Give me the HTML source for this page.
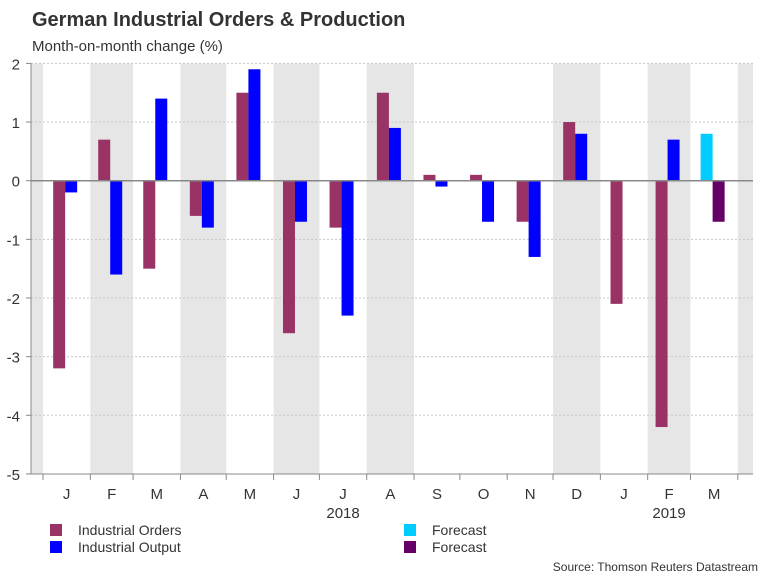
<!DOCTYPE html>
<html><head><meta charset="utf-8"><style>
body{margin:0;background:#fff;font-family:"Liberation Sans",sans-serif;}
</style></head><body>
<svg id="c" width="768" height="576" xmlns="http://www.w3.org/2000/svg" font-family="Liberation Sans, sans-serif">
<text x="32" y="26" font-size="20" font-weight="bold" fill="#333">German Industrial Orders &amp; Production</text>
<text x="32" y="51" font-size="15" fill="#333">Month-on-month change (%)</text>
<g id="plot"></g>
<g>
<rect x="50" y="524" width="12" height="12" fill="#993366"/>
<text x="78" y="535" font-size="14" fill="#333">Industrial Orders</text>
<rect x="50" y="541" width="12" height="12" fill="#0000ff"/>
<text x="78" y="552" font-size="14" fill="#333">Industrial Output</text>
<rect x="404" y="524" width="12" height="12" fill="#00ccff"/>
<text x="432" y="535" font-size="14" fill="#333">Forecast</text>
<rect x="404" y="541" width="12" height="12" fill="#660066"/>
<text x="432" y="552" font-size="14" fill="#333">Forecast</text>
</g>
<text x="758" y="571" font-size="12" fill="#333" text-anchor="end">Source: Thomson Reuters Datastream</text>
</svg>
<script>
const months=["J","F","M","A","M","J","J","A","S","O","N","D","J","F","M"];
const monthDays=[31,28,31,30,31,30,31,31,30,31,30,31,31,28,31];
const shaded=[false,true,false,true,false,true,false,true,false,false,false,true,false,true,false];
const orders=[-3.2,0.7,-1.5,-0.6,1.5,-2.6,-0.8,1.5,0.1,0.1,-0.7,1.0,-2.1,-4.2,null];
const output=[-0.2,-1.6,1.4,-0.8,1.9,-0.7,-2.3,0.9,-0.1,-0.7,-1.3,0.8,0.0,0.7,null];
const forecastLeft=[null,null,null,null,null,null,null,null,null,null,null,null,null,null,0.8];
const forecastRight=[null,null,null,null,null,null,null,null,null,null,null,null,null,null,-0.7];
const yTicks=[2,1,0,-1,-2,-3,-4,-5];
const NS="http://www.w3.org/2000/svg";
const g=document.getElementById('plot');
const L=31,R=753,X0=43,PPD=1.527;
const y=v=>180.7-v*58.65;
function mk(t,a){const e=document.createElementNS(NS,t);for(const k in a)e.setAttribute(k,a[k]);g.appendChild(e);return e;}
const edges=[X0];monthDays.forEach(d=>edges.push(edges[edges.length-1]+d*PPD));
let r=mk('rect',{x:L,y:y(2),width:X0-L,height:y(-5)-y(2),fill:'#e6e6e6'});


r=mk('rect',{x:edges[15],y:y(2),width:R-edges[15],height:y(-5)-y(2),fill:'#e6e6e6'});


months.forEach((m,i)=>{if(shaded[i]){const b=mk('rect',{x:edges[i],y:y(2),width:edges[i+1]-edges[i],height:y(-5)-y(2),fill:'#e6e6e6'});

}});
yTicks.forEach(v=>{
 if(v!==0&&v!==-5){const l=mk('line',{x1:L,x2:R,y1:y(v),y2:y(v),stroke:'#c8c8c8','stroke-dasharray':'2,2','stroke-width':1});
 
 }
 const tk=mk('line',{x1:L-5,x2:L,y1:y(v),y2:y(v),stroke:'#888'});
 
 
 const t=mk('text',{x:20,y:y(v)+6,'font-size':15,fill:'#333','text-anchor':'end'});t.textContent=v;
 
 
});
function bar(v,x,c,n){if(v===null)return;const b=mk('rect',{x:x,y:Math.min(y(v),y(0)),width:12,height:Math.max(Math.abs(y(v)-y(0)),0.8),fill:c});

}
months.forEach((m,i)=>{
 const c=(edges[i]+edges[i+1])/2-1.5;
 bar(orders[i],c-12,'#993366','bar-orders-'+i);
 bar(output[i],c,'#0000ff','bar-output-'+i);
 bar(forecastLeft[i],c-12,'#00ccff','bar-forecast-output-'+i);
 bar(forecastRight[i],c,'#660066','bar-forecast-orders-'+i);
 const t=mk('text',{x:c+1.5,y:499,'font-size':15,fill:'#333','text-anchor':'middle'});t.textContent=m;
 
 
});
edges.forEach(e=>{const tk=mk('line',{x1:e,x2:e,y1:y(-5),y2:y(-5)+6,stroke:'#888'});

});
let a=mk('line',{x1:L,x2:R,y1:y(0),y2:y(0),stroke:'#888','stroke-width':1.5});


a=mk('line',{x1:L,x2:L,y1:y(2),y2:y(-5),stroke:'#888'});


a=mk('line',{x1:L,x2:R,y1:y(-5),y2:y(-5),stroke:'#888'});


let yr=mk('text',{x:(edges[6]+edges[7])/2,y:518,'font-size':15,fill:'#333','text-anchor':'middle'});yr.textContent='2018';


yr=mk('text',{x:(edges[13]+edges[14])/2,y:518,'font-size':15,fill:'#333','text-anchor':'middle'});yr.textContent='2019';


</script>
</body></html>
